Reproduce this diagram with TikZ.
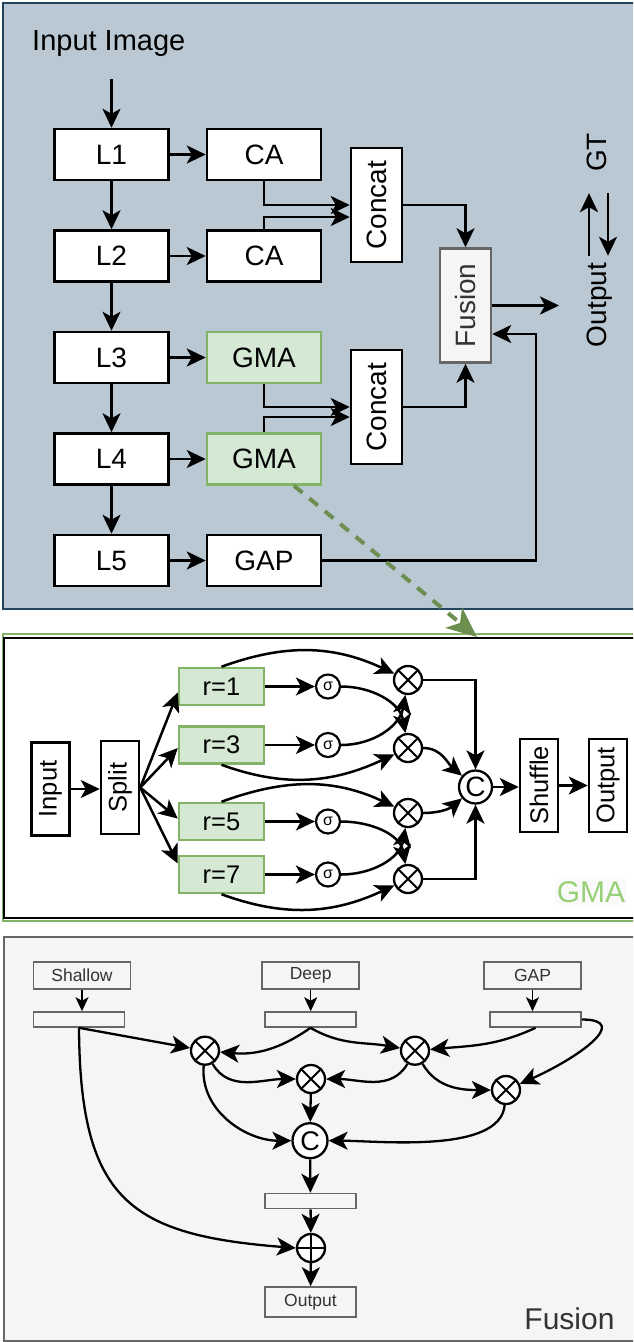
\documentclass[tikz,border=0pt]{standalone}
\usepackage{fontspec}
\setmainfont{Liberation Sans}
\usepackage{tikz}
\usetikzlibrary{positioning, arrows.meta}
\definecolor{panelfill}{HTML}{BAC8D3}
\definecolor{paneledge}{HTML}{23445D}
\definecolor{greenfill}{HTML}{D5E8D4}
\definecolor{greenedge}{HTML}{82B366}
\definecolor{gmatext}{HTML}{97D077}
\definecolor{gmaarrowc}{HTML}{6C8F50}
\definecolor{fusfill}{HTML}{F5F5F5}
\definecolor{fusedge}{HTML}{666666}
\definecolor{darktext}{HTML}{333333}
\newcommand{\tfbig}{\fontsize{28}{32}\selectfont}
\newcommand{\tfmid}{\fontsize{25.5}{28}\selectfont}
\newcommand{\tfsmall}{\fontsize{17.5}{20}\selectfont}
\tikzset{>={Stealth[length=19pt,width=18pt,inset=5pt]},
link/.style={->, line width=2.5pt},
feed/.style={-{Stealth[length=14pt,width=13pt,inset=3.5pt]}, line width=1.3pt},
layer/.style={draw, line width=2.5pt, fill=white, minimum width=114pt, minimum height=51pt, inner sep=0pt, font=\tfbig},
gmabox/.style={fill=greenfill, draw=greenedge},
catbox/.style={draw, line width=2.5pt, fill=white, rotate=90, minimum width=114pt, minimum height=51pt, inner sep=0pt, font=\tfbig},
fusebox/.style={fill=fusfill, draw=fusedge, text=darktext},
vtext/.style={rotate=90, font=\tfbig, text depth=0pt, inner sep=3pt},
vbox/.style={draw, line width=2.5pt, fill=white, rotate=90, minimum width=93pt, minimum height=38pt, inner sep=0pt, font=\tfmid},
rbox/.style={draw=greenedge, fill=greenfill, line width=2.5pt, minimum width=85pt, minimum height=37pt, inner sep=0pt, font=\tfmid},
sig/.style={circle, draw, line width=2.2pt, fill=white, minimum size=24pt, inner sep=0pt, font=\fontsize{16}{16}\selectfont},
mul/.style={circle, draw, line width=2.3pt, fill=white, minimum size=28pt, inner sep=0pt,
  path picture={\draw[line width=2pt] (path picture bounding box.south west) -- (path picture bounding box.north east)
  (path picture bounding box.north west) -- (path picture bounding box.south east);}},
plus/.style={circle, draw, line width=2.3pt, fill=white, minimum size=28pt, inner sep=0pt,
  path picture={\draw[line width=2pt] (path picture bounding box.north) -- (path picture bounding box.south)
  (path picture bounding box.west) -- (path picture bounding box.east);}},
catdot/.style={circle, draw, line width=2.3pt, fill=white, minimum size=34pt, inner sep=0pt, font=\tfbig},
fbox/.style={draw=fusedge, line width=1.6pt, minimum width=97pt, minimum height=27pt, inner sep=0pt, text=darktext, font=\tfsmall},
fbar/.style={draw=fusedge, line width=1.6pt, minimum width=91pt, minimum height=15pt, inner sep=0pt},
gmaarrow/.style={-{Stealth[length=30pt,width=26pt,inset=8pt]}, draw=gmaarrowc, line width=4pt, dash pattern=on 11pt off 9pt}
}

\begin{document}
\begin{tikzpicture}[x=1pt, y=1pt]
\useasboundingbox (0,0) rectangle (633,-1342);
\clip (0,0) rectangle (633,-1342);
% backbone
\draw[fill=panelfill, draw=paneledge, line width=2pt] (3,-3) rectangle (650,-609);
\node[anchor=base west, inner sep=0pt, font=\fontsize{29}{32}\selectfont] (title) at (32,-50) {Input Image};
\coordinate (src) at (111.5,-79);
\node[layer] (l1) at (111.5,-154.5) {L1};
\node[layer, below=48pt of l1] (l2) {L2};
\node[layer, below=48pt of l2] (l3) {L3};
\node[layer, below=48pt of l3] (l4) {L4};
\node[layer, below=48pt of l4] (l5) {L5};
\node[layer, right=36pt of l1] (ca1) {CA};
\node[layer, right=36pt of l2] (ca2) {CA};
\node[layer, gmabox, right=36pt of l3] (gma1) {GMA};
\node[layer, gmabox, right=36pt of l4] (gma2) {GMA};
\node[layer, right=36pt of l5] (gap) {GAP};
\node[catbox] (catA) at (376.5,-205) {Concat};
\node[catbox] (catB) at (376.5,-407) {Concat};
\node[catbox, fusebox] (fus) at (465.5,-305.5) {Fusion};
\node[vtext] (gt) at (597,-152.5) {GT};
\node[vtext] (otxt) at (597,-305) {Output};
\coordinate (outc) at (559,-305.5);
\coordinate (turn) at (536,-334);
\coordinate (gmatip) at (477,-637);
\draw[line width=2.5pt]
(src) edge[->] (l1)
(l1) edge[->] (l2)
(l2) edge[->] (l3)
(l3) edge[->] (l4)
(l4) edge[->] (l5)
(l1) edge[->] (ca1)
(l2) edge[->] (ca2)
(l3) edge[->] (gma1)
(l4) edge[->] (gma2)
(l5) edge[->] (gap)
(fus.south) edge[->] (outc)
;
\draw[link] (ca1.south) |- (catA.north);
\draw[link] (ca2.north) |- ([yshift=-12pt]catA.north);
\draw[link] (gma1.south) |- (catB.north);
\draw[link] (gma2.north) |- ([yshift=-10pt]catB.north);
\draw[link] (catA.south) -| (fus.east);
\draw[link] (catB.south) -| (fus.west);
\draw[link] (gap.east) -| (turn) -- (turn -| fus.south);
\draw[link, shorten <=4pt, shorten >=18pt] ([xshift=-8pt]otxt.east) -- ([xshift=-8pt]gt.west);
\draw[link, shorten <=18pt, shorten >=4pt] ([xshift=11pt]gt.west) -- ([xshift=11pt]otxt.east);

% GMA block
\draw[greenedge, line width=2.5pt] (3,-634) rectangle (650,-921);
\draw[line width=2.5pt, fill=white] (4,-638) rectangle (650,-918);
\node[vbox] (inp) at (50.5,-789) {Input};
\node[vbox] (split) at (120,-787.5) {Split};
\node[rbox] (r1) at (221.5,-686.5) {r=1};
\node[rbox] (r3) at (221.5,-745) {r=3};
\node[rbox] (r5) at (221.5,-821.5) {r=5};
\node[rbox] (r7) at (221.5,-874.5) {r=7};
\node[sig] (s1) at (328,-686.5) {σ};
\node[sig] (s3) at (328,-745) {σ};
\node[sig] (s5) at (328,-821.5) {σ};
\node[sig] (s7) at (328,-874.5) {σ};
\node[mul] (m1) at (408,-680) {};
\node[mul] (m3) at (408,-748) {};
\node[mul] (m5) at (408,-813) {};
\node[mul] (m7) at (408,-879) {};
\node[catdot, minimum size=33pt] (cc) at (475.5,-787) {C};
\node[vbox] (shuf) at (539,-785.5) {Shuffle};
\node[vbox] (outb) at (608,-785.5) {Output};
\node[text=gmatext, fill=black!2, font=\fontsize{30}{32}\selectfont, inner sep=2pt] (gmalabel) at (591,-892) {GMA};
\draw[line width=2.5pt]
(inp.south) edge[->] (inp.south -| split.north)
(split.south) edge[->] ([yshift=-6pt]r1.west)
(split.south) edge[->] ([yshift=-3pt]r3.west)
(split.south) edge[->] ([yshift=3pt]r5.west)
(split.south) edge[->] ([yshift=11pt]r7.west)
(r1) edge[->] (s1)
(r3) edge[->] (s3)
(r5) edge[->] (s5)
(r7) edge[->] (s7)
(r1.north) edge[->, out=20, in=155] (m1)
(s1.east) edge[->, out=0, in=100] (m3)
(s3.east) edge[->, out=0, in=-100] (m1)
(r3.south) edge[->, out=-20, in=-155] (m3)
(r5.north) edge[->, out=20, in=155] (m5)
(s5.east) edge[->, out=0, in=100] (m7)
(s7.east) edge[->, out=0, in=-100] (m5)
(r7.south) edge[->, out=-20, in=-155] (m7)
(m3.east) edge[->, out=0, in=140] (cc)
(m5.east) edge[->, out=0, in=-140] (cc)
(cc.east) edge[->] (cc.east -| shuf.north)
(shuf) edge[->] (outb)
;
\draw[link] (m1.east) -| (cc.north);
\draw[link] (m7.east) -| (cc.south);
\draw[gmaarrow] ([xshift=30pt]gma2.south) -- (gmatip);

% fusion block
\draw[fill=fusfill, draw=fusedge, line width=1.6pt] (4,-937) rectangle (650,-1341);
\node[fbox] (shallow) at (82,-975.5) {Shallow};
\node[fbox] (deep) at (310.7,-975.5) {Deep};
\node[fbox] (gapin) at (532.5,-975.5) {GAP};
\node[fbar] (sb) at (79,-1019.5) {};
\node[fbar] (db) at (310.5,-1019.5) {};
\node[fbar] (gb) at (535.5,-1019.5) {};
\node[mul] (fm1) at (205,-1050.7) {};
\node[mul] (fm2) at (311,-1079) {};
\node[mul] (fm3) at (415,-1050.7) {};
\node[mul] (fm4) at (506,-1090) {};
\node[catdot, minimum size=35pt, font=\fontsize{27}{30}\selectfont] (fc) at (310,-1140.7) {C};
\node[fbar] (mb) at (310.5,-1201) {};
\node[plus] (fp) at (311,-1248) {};
\node[fbox, minimum width=91pt, minimum height=30pt] (fout) at (310.5,-1302) {Output};
\node[text=darktext, font=\fontsize{30}{32}\selectfont, inner sep=0pt] (fuslabel) at (569.5,-1319) {Fusion};
\draw[feed] (shallow.south) -- (shallow.south |- sb.north);
\draw[feed] (deep.south) -- (deep.south |- db.north);
\draw[feed] (gapin.south) -- (gapin.south |- gb.north);
\draw[line width=2.3pt]
(sb.south) edge[->] (fm1)
(db.south) edge[->, out=-145, in=-5] (fm1)
(db.south) edge[->, out=-30, in=170] (fm3)
(gb.south) edge[->, out=-155, in=5] (fm3)
(fm1) edge[->, out=-60, in=180] (fm2)
(fm3) edge[->, out=-120, in=0] (fm2)
(fm3) edge[->, out=-60, in=180] (fm4)
(fm1) edge[->, out=-95, in=180] (fc)
(fm4) edge[->, out=-95, in=0, looseness=0.7] (fc)
(fm2) edge[->] (fc)
(fc) edge[->] (mb)
(mb) edge[->] (fp)
(fp) edge[->] (fout)
;
\draw[line width=2.3pt, ->] (gb.east) .. controls (632,-1019.5) and (578,-1058) .. (fm4);
\draw[line width=2.3pt, ->] (sb.south) .. controls (80,-1200) and (130,-1235) .. (fp.west);
\end{tikzpicture}
\end{document}
